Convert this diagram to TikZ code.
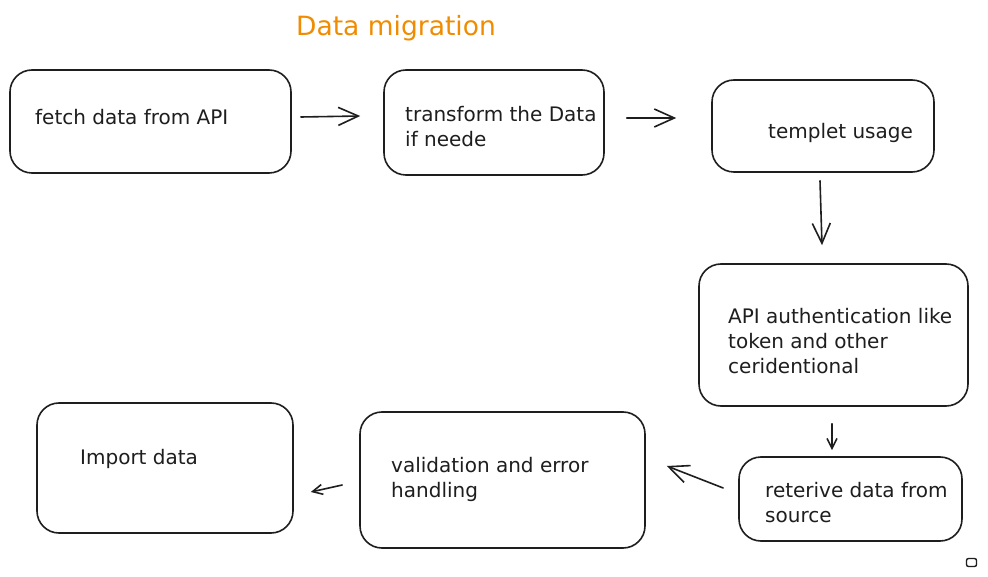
\documentclass[tikz,border=0pt]{standalone}
\usepackage{fontspec}
\setmainfont{DejaVu Sans}
\usetikzlibrary{arrows.meta}
\definecolor{exorange}{RGB}{240,140,0}
\definecolor{ink}{RGB}{30,30,30}
\tikzset{
  stepbox/.style={draw=ink, line width=1.6pt, rounded corners=22pt, inner sep=0pt},
  lbl/.style={anchor=west, align=left, inner sep=0pt, font=\fontsize{20}{25}\selectfont, text=ink},
  arr/.style={draw=ink, line width=1.6pt, line cap=round, -{Straight Barb[length=20pt,width=18pt,line width=1.6pt]}},
  arrs/.style={draw=ink, line width=1.6pt, line cap=round, -{Straight Barb[length=10pt,width=10pt,line width=1.6pt]}},
}
\begin{document}
\begin{tikzpicture}[x=1pt,y=-1pt]
\useasboundingbox (0,0) rectangle (988,577);
\fill[white] (0,0) rectangle (988,577);

\node[text=exorange, font=\fontsize{26.5}{30}\selectfont] (title) at (396,28.5) {Data migration};

\node[stepbox, minimum width=281pt, minimum height=103pt] (fetch) at (150.5,121.5) {};
\node[stepbox, minimum width=220pt, minimum height=105pt] (transform) at (494,122.5) {};
\node[stepbox, minimum width=222pt, minimum height=92pt] (templet) at (823,126) {};
\node[stepbox, minimum width=269pt, minimum height=142pt] (auth) at (833.5,335) {};
\node[stepbox, minimum width=223pt, minimum height=84pt] (reterive) at (850.5,499) {};
\node[stepbox, minimum width=285pt, minimum height=136pt] (validation) at (502.5,480) {};
\node[stepbox, minimum width=256pt, minimum height=130pt] (import) at (165,468) {};

\node[lbl] (tfetch) at (35,117.5) {fetch data from API};
\node[lbl] (ttransform) at (405,126.5) {transform the Data\\if neede};
\node[lbl] (ttemplet) at (768,132.5) {templet usage};
\node[lbl] (tauth) at (728,341) {API authentication like\\token and other\\ceridentional};
\node[lbl] (treterive) at (765,502.5) {reterive data from\\source};
\node[lbl] (tvalidation) at (391,479.5) {validation and error\\handling};
\node[lbl] (timport) at (80,459) {Import data};

\draw[arr] ([shift={(9,-4.5)}]fetch.east) -- ([shift={(-23,-6.5)}]transform.west);
\draw[arr] ([shift={(22,-4.5)}]transform.east) -- ([shift={(-35,-8)}]templet.west);
\draw[arr] ([shift={(-3,8)}]templet.south) -- ([shift={(-11.5,-18)}]auth.north);
\draw[arrs] ([shift={(-1.5,17)}]auth.south) -- ([shift={(-18.5,-6)}]reterive.north);
\draw[arr] ([shift={(-15,-11)}]reterive.west) -- ([shift={(21,-14)}]validation.east);
\draw[arrs] ([shift={(-17,5)}]validation.west) -- ([shift={(17,24)}]import.east);

\node[draw=ink, line width=1.4pt, rounded corners=2pt, minimum width=10pt, minimum height=8pt, inner sep=0pt] (mini) at (971.5,562.5) {};
\end{tikzpicture}
\end{document}
